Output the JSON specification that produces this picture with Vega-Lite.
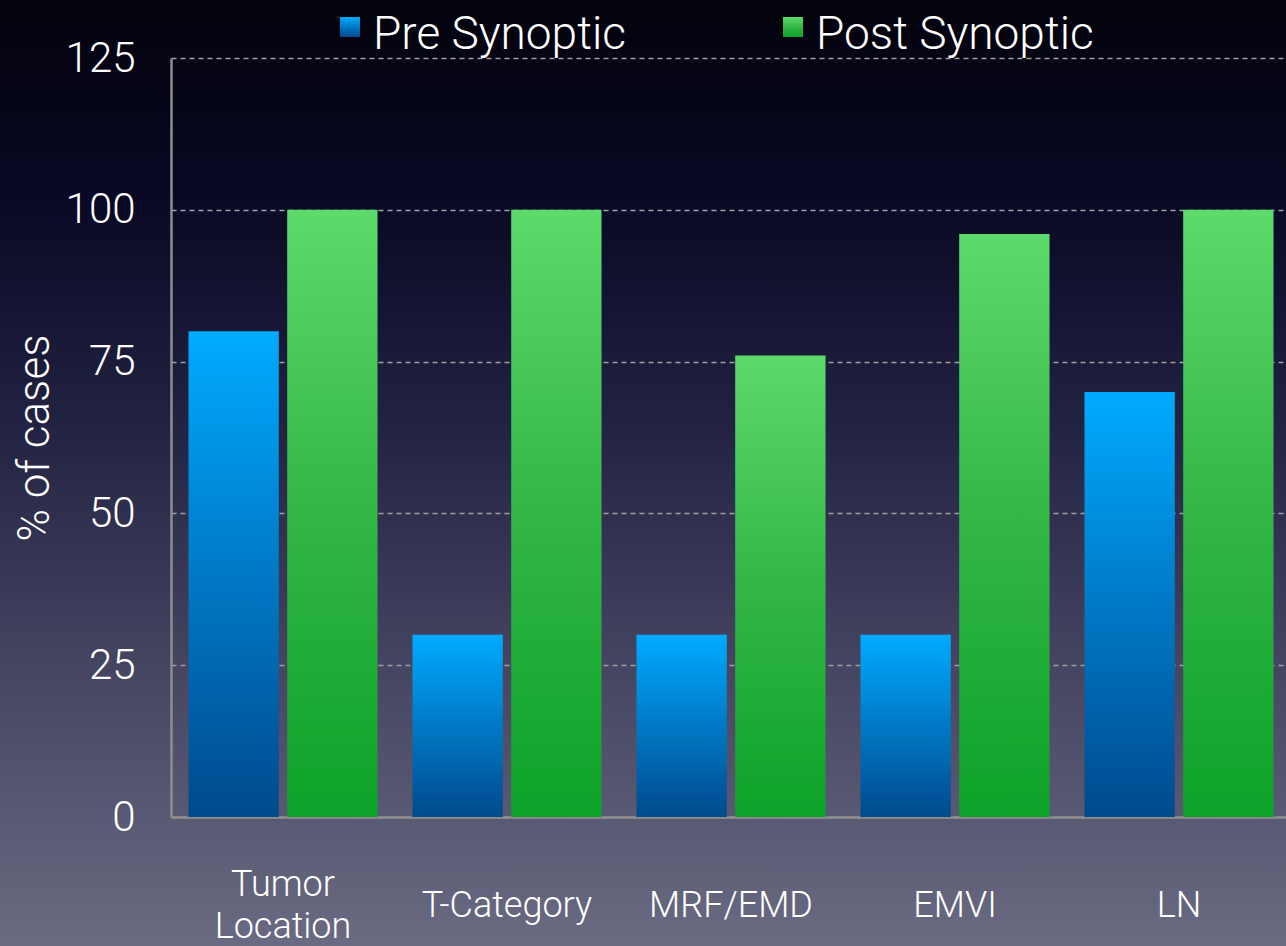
{
  "$schema": "https://vega.github.io/schema/vega-lite/v6.json",
  "width": 1286,
  "height": 946,
  "autosize": {"type": "none"},
  "padding": 0,
  "background": "#03030c",
  "config": {
    "view": {
      "stroke": null,
      "fill": {
        "gradient": "linear", "x1": 0, "y1": 0, "x2": 0, "y2": 1,
        "stops": [
          {"offset": 0, "color": "#03030c"},
          {"offset": 0.2, "color": "#080824"},
          {"offset": 0.45, "color": "#222242"},
          {"offset": 0.7, "color": "#454562"},
          {"offset": 1, "color": "#6a6a82"}
        ]
      }
    },
    "font": "Roboto"
  },
  "data": {
    "values": [
      {"category": "Tumor Location", "series": "Pre Synoptic", "value": 80},
      {"category": "Tumor Location", "series": "Post Synoptic", "value": 100},
      {"category": "T-Category", "series": "Pre Synoptic", "value": 30},
      {"category": "T-Category", "series": "Post Synoptic", "value": 100},
      {"category": "MRF/EMD", "series": "Pre Synoptic", "value": 30},
      {"category": "MRF/EMD", "series": "Post Synoptic", "value": 76},
      {"category": "EMVI", "series": "Pre Synoptic", "value": 30},
      {"category": "EMVI", "series": "Post Synoptic", "value": 96},
      {"category": "LN", "series": "Pre Synoptic", "value": 70},
      {"category": "LN", "series": "Post Synoptic", "value": 100}
    ]
  },
  "layer": [
    {
      "mark": {"type": "bar"},
      "encoding": {
        "x": {
          "field": "category",
          "type": "nominal",
          "sort": ["Tumor Location", "T-Category", "MRF/EMD", "EMVI", "LN"],
          "scale": {"range": [171, 1291], "paddingInner": 0.156, "paddingOuter": 0.078},
          "axis": {
            "orient": "bottom",
            "offset": -129,
            "title": null,
            "labelAngle": 0,
            "tickSize": 0,
            "ticks": false,
            "labelPadding": 88,
            "labelBaseline": "middle",
            "labelFontSize": 36,
            "labelFontWeight": 300,
            "labelColor": "#ffffff",
            "labelExpr": "datum.label == 'Tumor Location' ? '' : datum.label",
            "domainColor": "#8e8e8e",
            "domainWidth": 2.5,
            "grid": false
          }
        },
        "xOffset": {
          "field": "series",
          "type": "nominal",
          "sort": ["Pre Synoptic", "Post Synoptic"],
          "scale": {"paddingInner": 0.085, "paddingOuter": 0}
        },
        "y": {
          "field": "value",
          "type": "quantitative",
          "scale": {"domain": [0, 125], "range": [817, 58], "nice": false, "zero": true},
          "axis": {
            "orient": "left",
            "offset": -171,
            "values": [0, 25, 50, 75, 100, 125],
            "ticks": false,
            "tickSize": 0,
            "labelPadding": 36,
            "labelFontSize": 42,
            "labelFontWeight": 300,
            "labelColor": "#ffffff",
            "domainColor": "#8e8e8e",
            "domainWidth": 2.5,
            "grid": true,
            "gridColor": "#a0a0a0",
            "gridDash": [5, 4],
            "gridWidth": 1.5,
            "title": "% of cases",
            "titleFontSize": 44,
            "titleFontWeight": 300,
            "titleColor": "#ffffff",
            "titlePadding": 8
          }
        },
        "color": {
          "field": "series",
          "type": "nominal",
          "sort": ["Pre Synoptic", "Post Synoptic"],
          "scale": {
            "domain": ["Pre Synoptic", "Post Synoptic"],
            "range": [
              {"expr": "{gradient: 'linear', x1: 0, y1: 0, x2: 0, y2: 1, stops: [{offset: 0, color: '#00abff'}, {offset: 0.5, color: '#0079c6'}, {offset: 1, color: '#004a8d'}]}"},
              {"expr": "{gradient: 'linear', x1: 0, y1: 0, x2: 0, y2: 1, stops: [{offset: 0, color: '#5cda6b'}, {offset: 0.5, color: '#33b646'}, {offset: 1, color: '#0ca22a'}]}"}
            ]
          },
          "legend": {
            "orient": "none",
            "legendX": 327,
            "legendY": 12,
            "direction": "horizontal",
            "title": null,
            "labelFontSize": 46,
            "labelFontWeight": 300,
            "labelColor": "#ffffff",
            "labelLimit": 500,
            "labelOffset": 0,
            "columnPadding": 119,
            "gridAlign": "all",
            "symbolType": "M-1,-1.8H1V0.2H-1Z",
            "symbolSize": 400,
            "symbolStrokeWidth": 0
          }
        }
      }
    },
    {
      "mark": {"type": "bar", "opacity": 0},
      "encoding": {
        "x": {
          "field": "category",
          "type": "nominal",
          "sort": ["Tumor Location", "T-Category", "MRF/EMD", "EMVI", "LN"],
          "scale": {"range": [171, 1291], "paddingInner": 0.156, "paddingOuter": 0.078},
          "axis": {
            "orient": "bottom",
            "offset": -129,
            "title": null,
            "labelAngle": 0,
            "tickSize": 0,
            "ticks": false,
            "domain": false,
            "labelPadding": 67,
            "labelBaseline": "middle",
            "labelLineHeight": 42,
            "labelFontSize": 36,
            "labelFontWeight": 300,
            "labelColor": "#ffffff",
            "labelExpr": "datum.label == 'Tumor Location' ? ['Tumor', 'Location'] : ''",
            "grid": false
          }
        },
        "xOffset": {
          "field": "series",
          "type": "nominal",
          "sort": ["Pre Synoptic", "Post Synoptic"],
          "scale": {"paddingInner": 0.085, "paddingOuter": 0}
        },
        "y": {
          "field": "value",
          "type": "quantitative",
          "scale": {"domain": [0, 125], "range": [817, 58], "nice": false, "zero": true},
          "axis": {
            "orient": "left",
            "offset": -171,
            "values": [0, 25, 50, 75, 100, 125],
            "ticks": false,
            "tickSize": 0,
            "labelPadding": 36,
            "labelFontSize": 42,
            "labelFontWeight": 300,
            "labelColor": "#ffffff",
            "domainColor": "#8e8e8e",
            "domainWidth": 2.5,
            "grid": true,
            "gridColor": "#a0a0a0",
            "gridDash": [5, 4],
            "gridWidth": 1.5,
            "title": "% of cases",
            "titleFontSize": 44,
            "titleFontWeight": 300,
            "titleColor": "#ffffff",
            "titlePadding": 8
          }
        }
      }
    }
  ],
  "resolve": {"axis": {"x": "independent"}}
}
